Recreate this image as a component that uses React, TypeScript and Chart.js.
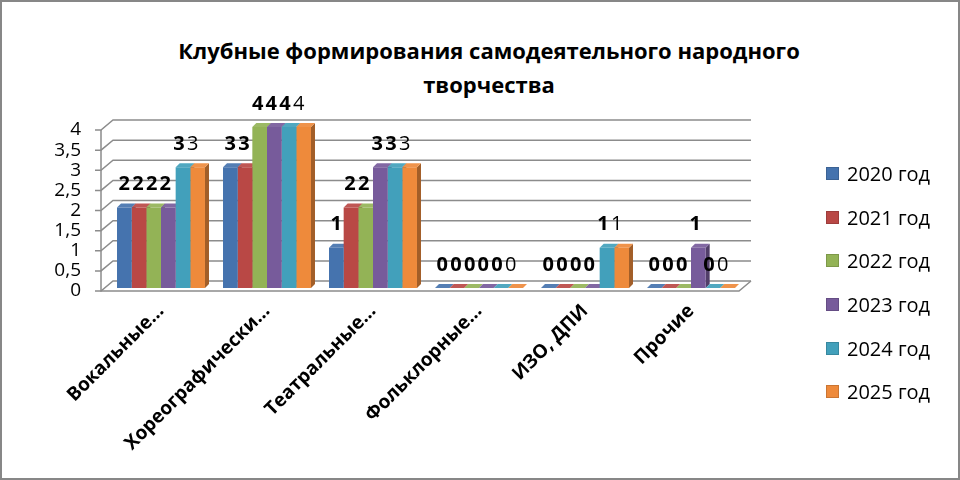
import { useEffect, useRef } from 'react'
import { Chart, registerables } from 'chart.js'
import type { Plugin } from 'chart.js'

Chart.register(...registerables)

const categories = ['Вокальные…', 'Хореографически…', 'Театральные…', 'Фольклорные…', 'ИЗО, ДПИ', 'Прочие']
const seriesNames = ['2020 год', '2021 год', '2022 год', '2023 год', '2024 год', '2025 год']
const values2020 = [2, 3, 1, 0, 0, 0]
const values2021 = [2, 3, 2, 0, 0, 0]
const values2022 = [2, 4, 2, 0, 0, 0]
const values2023 = [2, 4, 3, 0, 0, 1]
const values2024 = [3, 4, 3, 0, 1, 0]
const values2025 = [3, 4, 3, 0, 1, 0]
const seriesValues = [values2020, values2021, values2022, values2023, values2024, values2025]
const seriesColors = ['#4573AE', '#B94845', '#93B356', '#775B9B', '#42A0BB', '#EE8A3B']
const yMin = 0
const yMax = 4
const yStep = 0.5

const FONT = '"Open Sans", sans-serif'

// darken / lighten a hex colour
function shade(hex: string, f: number) {
  const n = parseInt(hex.slice(1), 16)
  const ch = [(n >> 16) & 255, (n >> 8) & 255, n & 255].map(c =>
    Math.round(f < 1 ? c * f : c + (255 - c) * (f - 1))
  )
  return `rgb(${ch[0]}, ${ch[1]}, ${ch[2]})`
}

// 3D-ish walls, floor and the side/top faces of the bars
const depthPlugin: Plugin<'bar'> = {
  id: 'depth',
  beforeDatasetsDraw(chart) {
    const { ctx, chartArea } = chart
    const { left, right } = chartArea
    const y = chart.scales.y
    const fx = left - 7
    const bx = left + 5
    ctx.save()
    ctx.strokeStyle = '#8c8c8c'
    ctx.lineWidth = 1.5
    y.ticks.forEach(t => {
      const py = y.getPixelForValue(t.value)
      ctx.beginPath()
      ctx.moveTo(fx - 6, py + 3)
      ctx.lineTo(fx, py + 3)
      ctx.lineTo(bx, py - 7)
      ctx.lineTo(right + 7, py - 7)
      ctx.stroke()
    })
    const y0 = y.getPixelForValue(yMin)
    const yTop = y.getPixelForValue(yMax)
    ctx.beginPath()
    ctx.moveTo(fx, yTop + 3)
    ctx.lineTo(fx, y0 + 3)
    ctx.lineTo(right - 5, y0 + 3)
    ctx.lineTo(right + 7, y0 - 7)
    ctx.stroke()

    const dx = 4
    const dy = -4
    chart.data.datasets.forEach((ds, i) => {
      const color = seriesColors[i]
      chart.getDatasetMeta(i).data.forEach(el => {
        const { x, y: top, base, width } = el.getProps(['x', 'y', 'base', 'width'], true) as any
        const x0 = x - width / 2
        const x1 = x + width / 2
        ctx.fillStyle = shade(color, 0.68)
        ctx.beginPath()
        ctx.moveTo(x1, top)
        ctx.lineTo(x1 + dx, top + dy)
        ctx.lineTo(x1 + dx, base + dy)
        ctx.lineTo(x1, base)
        ctx.closePath()
        ctx.fill()
        ctx.fillStyle = shade(color, 1.08)
        ctx.beginPath()
        ctx.moveTo(x0, top)
        ctx.lineTo(x0 + dx, top + dy)
        ctx.lineTo(x1 + dx, top + dy)
        ctx.lineTo(x1, top)
        ctx.closePath()
        ctx.fill()
      })
    })
    ctx.restore()
  }
}

// value labels above the bars
const labelPlugin: Plugin<'bar'> = {
  id: 'valueLabels',
  afterDatasetsDraw(chart) {
    const { ctx } = chart
    ctx.save()
    ctx.fillStyle = '#000'
    ctx.textAlign = 'center'
    ctx.textBaseline = 'middle'
    chart.data.datasets.forEach((ds, i) => {
      ctx.font = `${i === 5 ? 'normal' : 'bold'} 20px ${FONT}`
      chart.getDatasetMeta(i).data.forEach((el, j) => {
        const { x, y } = el.getProps(['x', 'y'], true) as any
        ctx.fillText(String(ds.data[j]), x - i, y - 23)
      })
    })
    ctx.restore()
  }
}

export default function App() {
  const chartRef = useRef<HTMLCanvasElement>(null)

  useEffect(() => {
    if (!chartRef.current) return
    const chart = new Chart(chartRef.current, {
      type: 'bar',
      data: {
        labels: categories,
        datasets: seriesNames.map((name, i) => ({
          label: name,
          data: seriesValues[i],
          backgroundColor: seriesColors[i],
          borderWidth: 0,
          categoryPercentage: 0.83,
          barPercentage: 1
        }))
      },
      options: {
        animation: false,
        responsive: true,
        maintainAspectRatio: false,
        layout: { padding: { top: 125, right: 214, left: 0, bottom: 0 } },
        scales: {
          x: {
            grid: { display: false, drawTicks: false },
            border: { display: false },
            ticks: {
              autoSkip: false,
              minRotation: 45,
              maxRotation: 45,
              padding: 12,
              color: '#000',
              font: { family: FONT, size: 19, weight: 'bold' }
            },
            afterFit: scale => { scale.height = 190 }
          },
          y: {
            min: yMin,
            max: yMax,
            grid: { display: false, drawTicks: false },
            border: { display: false },
            ticks: {
              stepSize: yStep,
              autoSkip: false,
              padding: 27,
              labelOffset: 3,
              color: '#000',
              font: { family: FONT, size: 19, lineHeight: 1 },
              callback: v => String(v).replace('.', ',')
            },
            afterFit: scale => { scale.width = 106 }
          }
        },
        plugins: {
          legend: { display: false },
          tooltip: { enabled: false },
          title: { display: false }
        }
      },
      plugins: [depthPlugin, labelPlugin]
    })
    return () => chart.destroy()
  }, [])

  return (
    <div style={{
      position: 'fixed', left: 0, top: 0, width: 960, height: 480,
      border: '2px solid #878787', boxSizing: 'border-box', background: '#fff',
      fontFamily: FONT, color: '#000'
    }}>
      <div style={{
        position: 'absolute', left: 18, right: 0, top: 31, textAlign: 'center',
        fontWeight: 'bold', fontSize: 22, lineHeight: '34px'
      }}>
        Клубные формирования самодеятельного народного<br />творчества
      </div>
      <div style={{ position: 'absolute', inset: 0 }}>
        <canvas ref={chartRef}></canvas>
      </div>
      <div style={{ position: 'absolute', left: 824, top: 150 }}>
        {seriesNames.map((name, i) => (
          <div key={name} style={{ display: 'flex', alignItems: 'center', height: 43.6 }}>
            <span style={{
              width: 13, height: 13, background: seriesColors[i], marginRight: 8,
              boxShadow: `inset 0 0 0 1px ${shade(seriesColors[i], 0.85)}`
            }} />
            <span style={{ fontSize: 20 }}>{name}</span>
          </div>
        ))}
      </div>
    </div>
  )
}
